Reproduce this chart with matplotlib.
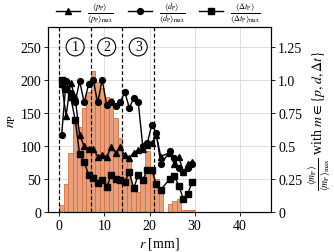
import matplotlib
matplotlib.use("Agg")
import matplotlib.pyplot as plt
import numpy as np

plt.rcParams['font.family'] = ['Liberation Serif', 'DejaVu Serif']
plt.rcParams['mathtext.fontset'] = 'stix'

# histogram of particle counts per 1 mm bin (left edges 0..45)
bin_left = np.arange(0, 46)
counts = [11, 42, 89, 133, 128, 158, 181, 214, 197, 188,
          174, 172, 142, 112, 85, 80, 40, 30, 50, 93,
          58, 50, 33, 0, 12, 16, 19, 3, 3, 3] + [0] * 16

# normalised means at bin centres (bin 23 empty)
r_centre = [0.5, 1.5, 2.5, 3.5, 4.5, 5.5, 6.5, 7.5, 8.5, 9.5,
            10.5, 11.5, 12.5, 13.5, 14.5, 15.5, 16.5, 17.5, 18.5, 19.5,
            20.5, 21.5, 22.5, 24.5, 25.5, 26.5, 27.5, 28.5, 29.5]
p_norm = [0.97, 0.73, 0.98, 0.87, 0.58, 0.50, 0.48, 0.48, 0.42, 0.43,
          0.42, 0.49, 0.45, 0.49, 0.43, 0.41, 0.45, 0.47, 0.48, 0.51,
          0.52, 0.58, 0.42, 0.45, 0.36, 0.42, 0.30, 0.36, 0.38]
d_norm = [0.58, 0.99, 0.90, 0.83, 0.99, 0.83, 0.97, 1.00, 0.83, 1.00,
          0.81, 0.83, 0.80, 0.83, 0.91, 0.79, 0.86, 0.83, 0.50, 0.52,
          0.66, 0.60, 0.36, 0.46, 0.41, 0.33, 0.30, 0.33, 0.36]
t_norm = [1.00, 0.93, 0.87, 0.70, 0.44, 0.38, 0.28, 0.26, 0.22, 0.24,
          0.19, 0.28, 0.25, 0.24, 0.23, 0.30, 0.18, 0.28, 0.24, 0.32,
          0.32, 0.21, 0.17, 0.25, 0.27, 0.20, 0.10, 0.14, 0.23]

zones = [0, 7, 14, 21]
zone_labels = ['1', '2', '3']

fig = plt.figure(figsize=(3.34, 2.53), dpi=100)
ax = fig.add_axes([0.144, 0.158, 0.668, 0.731])
ax2 = ax.twinx()

ax.bar(bin_left, counts, width=1.0, align='edge', color='#e79f7c',
       edgecolor='#d5703f', linewidth=0.6, zorder=2)
ax.set_axisbelow(True)
ax.grid(True, color='#d9d9d9', lw=0.6)

for z in zones:
    ax.axvline(z, color='black', ls=(0, (3, 2)), lw=0.9, zorder=3)
for i, lab in enumerate(zone_labels):
    ax.text((zones[i] + zones[i + 1]) / 2, 250, lab, ha='center', va='center',
            fontsize=10, zorder=4,
            bbox=dict(boxstyle='circle,pad=0.18', fc='white', ec='black', lw=0.8))

mk = dict(color='black', lw=1.0, markersize=4.2)
l1, = ax2.plot(r_centre, p_norm, marker='^', **mk)
l2, = ax2.plot(r_centre, d_norm, marker='o', **mk)
l3, = ax2.plot(r_centre, t_norm, marker='s', **mk)

ax.set_xlim(-2.5, 47)
ax.set_ylim(0, 280)
ax2.set_ylim(0, 1.4)
ax.set_xticks([0, 10, 20, 30, 40])
ax.set_yticks([0, 50, 100, 150, 200, 250])
ax2.set_yticks([0, 0.25, 0.5, 0.75, 1.0, 1.25])
ax2.set_yticklabels(['0', '0.25', '0.5', '0.75', '1.0', '1.25'])
for a in (ax, ax2):
    a.tick_params(labelsize=10, length=3, width=0.6, pad=2)
    for s in a.spines.values():
        s.set_linewidth(0.8)

ax.set_xlabel(r'$r$ [mm]', fontsize=10, labelpad=2)
ax.set_ylabel(r'$n_\mathrm{P}$', fontsize=10, labelpad=2)
ax2.set_ylabel(r'$\frac{\langle m_\mathrm{P}\rangle}{\langle m_\mathrm{P}\rangle_\mathrm{max}}$'
               r' with $m\in\{p,d,\Delta t\}$', fontsize=10, labelpad=3)

fig.legend([l1, l2, l3],
           [r'$\frac{\langle p_\mathrm{P}\rangle}{\langle p_\mathrm{P}\rangle_\mathrm{max}}$',
            r'$\frac{\langle d_\mathrm{P}\rangle}{\langle d_\mathrm{P}\rangle_\mathrm{max}}$',
            r'$\frac{\langle \Delta t_\mathrm{P}\rangle}{\langle \Delta t_\mathrm{P}\rangle_\mathrm{max}}$'],
           loc='center', bbox_to_anchor=(0.475, 0.945), ncol=3, frameon=False,
           fontsize=8.5, handlelength=2.0, columnspacing=1.2, handletextpad=0.6,
           borderpad=0.1)

fig.savefig('out.png', dpi=100)
